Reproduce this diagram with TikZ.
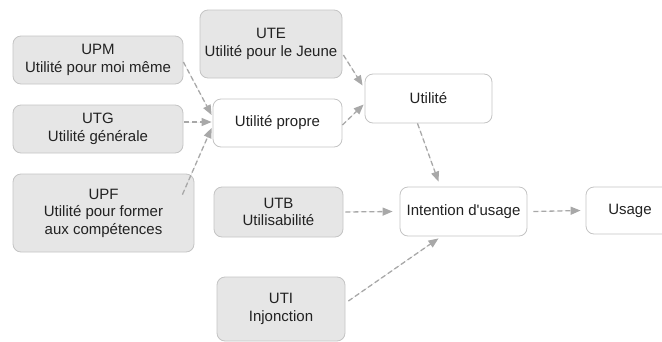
\documentclass[tikz,border=0pt]{standalone}
\usepackage{fontspec}
\setmainfont{Liberation Sans}
\usetikzlibrary{arrows.meta}
\definecolor{boxgrey}{HTML}{E6E6E6}
\definecolor{boxline}{HTML}{C4C4C4}
\definecolor{linkgrey}{HTML}{A8A8A8}
\definecolor{inkdark}{HTML}{222222}
\begin{document}
\begin{tikzpicture}[x=1pt, y=-1pt,
    every node/.style={rectangle, rounded corners=8pt, draw=boxline, line width=0.8pt,
        align=center, inner sep=0pt, text=inkdark, font=\fontsize{15}{17.5}\selectfont},
    greybox/.style={fill=boxgrey},
    whitebox/.style={fill=white},
    link/.style={-{Triangle[length=10pt,width=8pt]}, draw=linkgrey, fill=linkgrey,
        line width=1.3pt, dash pattern=on 5pt off 3pt}]
            \useasboundingbox (0,0) rectangle (662,341);
            \node[greybox, minimum width=170pt, minimum height=48pt] (upm) at (98,60) {UPM\\Utilité pour moi même};
            \node[greybox, minimum width=170pt, minimum height=48pt] (utg) at (98,129) {UTG\\Utilité générale};
            \node[greybox, minimum width=181pt, minimum height=78pt] (upf) at (103.5,213) {UPF\\Utilité pour former\\aux compétences};
            \node[greybox, minimum width=142pt, minimum height=68pt] (ute) at (271,44) {UTE\\Utilité pour le Jeune};
            \node[whitebox, minimum width=129pt, minimum height=48pt] (prop) at (277.5,123) {Utilité propre};
            \node[whitebox, minimum width=127pt, minimum height=49pt] (util) at (428.5,98.5) {Utilité};
            \node[greybox, minimum width=129pt, minimum height=50pt] (utb) at (278.5,212) {UTB\\Utilisabilité};
            \node[greybox, minimum width=128pt, minimum height=64pt] (uti) at (281,309) {UTI\\Injonction};
            \node[whitebox, minimum width=127pt, minimum height=49pt] (intent) at (463.5,211.5) {Intention d\textquotesingle usage};
            \node[whitebox, minimum width=88pt, minimum height=47pt] (usage) at (630,210.5) {Usage};
            \draw[link] ([yshift=-2pt]upm.east) -- ([xshift=-1pt,yshift=8pt]prop.west);
            \draw[link] ([xshift=1pt,yshift=7pt]utg.east) -- ([xshift=-1pt,yshift=1pt]prop.west);
            \draw[link] ([xshift=-12pt,yshift=-21pt]upf.north east) -- ([xshift=-1pt,yshift=-5pt]prop.west);
            \draw[link] ([xshift=1pt,yshift=-11pt]ute.east) -- ([xshift=-2pt,yshift=13pt]util.west);
            \draw[link] ([yshift=-2pt]prop.east) -- ([xshift=-1pt,yshift=-6pt]util.west);
            \draw[link] ([xshift=-11pt]util.south) -- ([xshift=-25pt,yshift=5pt]intent.north);
            \draw[link] ([xshift=2pt]utb.east) -- ([xshift=-7pt]intent.west);
            \draw[link] ([xshift=3pt,yshift=8pt]uti.east) -- ([xshift=-25pt,yshift=-2pt]intent.south);
            \draw[link] ([xshift=6pt]intent.east) -- ([xshift=-5pt]usage.west);
        \end{tikzpicture}
\end{document}
